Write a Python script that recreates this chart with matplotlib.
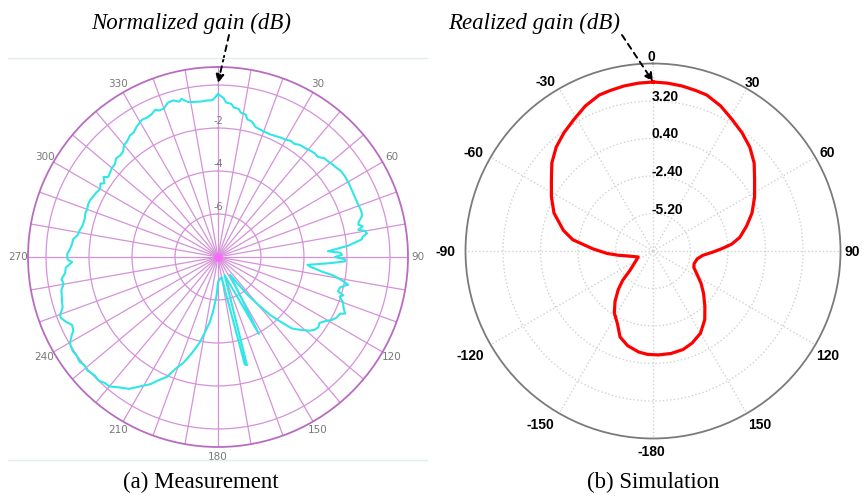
import numpy as np
import matplotlib.pyplot as plt
from matplotlib.lines import Line2D
from matplotlib.transforms import offset_copy

# ---- data ----
# (a) measured normalized gain, angle in degrees (clockwise from top), value in dB
meas_ang = [0, 2, 3, 5, 6, 8, 9, 11, 12, 14, 16, 18, 20, 23, 26, 28, 30, 32, 34, 36,
            39, 41, 43, 45, 47, 49, 51, 53, 55, 58, 61, 64, 67, 70, 72, 74, 76, 77, 78, 79,
            80, 81, 82, 83, 84, 85, 86, 87, 88, 89, 90, 91, 92, 93, 94, 95, 96, 97, 98, 99,
            100, 101, 102, 103, 104, 106, 107, 108, 110, 112, 114, 115, 117, 119, 121, 123, 125, 127, 129, 130,
            132, 134, 136, 138, 140, 142, 144, 146, 152, 160, 165, 166, 170, 176, 180, 182, 185, 187, 190, 192,
            195, 198, 201, 203, 206, 208, 211, 214, 217, 220, 222, 224, 226, 229, 231, 233, 235, 237, 239, 240,
            242, 243, 245, 247, 249, 250, 252, 254, 256, 258, 260, 262, 264, 266, 268, 269, 271, 273, 275, 277,
            279, 281, 283, 286, 288, 290, 292, 294, 296, 298, 300, 302, 303, 305, 306, 308, 310, 312, 314, 316,
            318, 320, 322, 324, 326, 328, 331, 333, 335, 337, 338, 340, 342, 344, 346, 347, 349, 351, 354, 356,
            358, 360]
meas_db = [-0.42, -0.60, -0.80, -0.85, -1.00, -1.05, -1.20, -1.25, -1.45, -1.50, -1.70, -1.75, -1.78, -1.80, -1.76, -1.72, -1.70, -1.62, -1.65, -1.55,
           -1.50, -1.45, -1.40, -1.42, -1.25, -1.22, -1.15, -1.10, -1.02, -1.00, -1.02, -1.04, -1.05, -1.03, -1.00, -1.02, -1.25, -1.30, -1.12, -1.35,
           -1.05, -0.98, -1.20, -1.26, -1.60, -1.91, -2.42, -2.88, -2.30, -2.23, -2.56, -2.10, -2.09, -2.70, -3.30, -3.81, -3.70, -3.40, -3.12, -2.60,
           -2.33, -2.05, -1.81, -2.00, -2.15, -2.19, -1.90, -2.05, -1.81, -1.70, -1.53, -1.75, -1.80, -1.95, -2.20, -2.37, -2.30, -2.37, -2.55, -2.70,
           -2.95, -3.21, -3.81, -4.37, -5.12, -5.77, -6.60, -7.00, -3.95, -7.10, -2.79, -2.85, -7.05, -6.95, -6.84, -6.23, -5.50, -4.98, -4.40, -3.95,
           -3.40, -2.84, -2.40, -1.95, -1.60, -1.30, -0.98, -0.60, -0.40, -0.14, -0.12, 0.00, -0.05, 0.05, 0.00, 0.08, 0.02, 0.05, 0.00, -0.05,
           -0.30, -0.45, -0.51, -0.30, -0.15, -0.19, -0.40, -0.45, -0.51, -0.55, -0.70, -0.65, -0.85, -0.90, -1.21, -1.00, -0.98, -1.10, -1.18, -1.21,
           -1.40, -1.45, -1.53, -1.55, -1.50, -1.52, -1.48, -1.49, -1.55, -1.60, -1.67, -1.55, -1.70, -1.50, -1.68, -1.63, -1.55, -1.55, -1.40, -1.44,
           -1.40, -1.20, -1.15, -1.02, -1.00, -0.85, -0.70, -0.72, -0.68, -0.55, -0.65, -0.65, -0.45, -0.42, -0.55, -0.45, -0.65, -0.70, -0.72, -0.70,
           -0.70, -0.42]

# (b) simulated realized gain
sim_ang = [0, 5, 10, 15, 19, 25, 31, 37, 43, 49, 55, 62, 69, 75, 81, 85, 88, 91, 95, 100,
           107, 112, 118, 124, 130, 137, 143, 150, 157, 163, 170, 177, 183, 188, 195, 201, 206, 212, 217, 222,
           226, 230, 237, 248, 259, 263, 267, 272, 278, 283, 291, 298, 305, 311, 317, 323, 329, 335, 341, 345,
           350, 355, 360]
sim_db = [4.62, 4.58, 4.51, 4.40, 4.32, 3.95, 3.46, 3.05, 2.60, 2.01, 1.26, 0.59, -0.08, -0.76, -1.43, -2.10, -2.85, -3.52, -4.27, -4.64,
          -4.79, -4.71, -4.27, -3.67, -3.07, -2.32, -1.58, -0.91, -0.53, -0.31, -0.23, -0.23, -0.27, -0.38, -0.68, -1.13, -1.95, -2.55, -3.29, -4.12,
          -4.86, -5.76, -6.36, -6.81, -6.06, -5.39, -4.56, -3.52, -1.95, -1.13, -0.08, 0.59, 1.26, 2.01, 2.60, 3.05, 3.46, 3.95, 4.32, 4.40,
          4.51, 4.58, 4.62]

meas_rings = [-6, -4, -2, 0]
meas_labels = [30, 60, 90, 120, 150, 180, 210, 240, 270, 300, 330]
sim_rings = [-5.2, -2.4, 0.4, 3.2]
sim_ticks = list(range(0, 360, 30))
sim_ticklabels = ['0', '30', '60', '90', '120', '150', '-180', '-150', '-120', '-90', '-60', '-30']
# pixel offsets of each angle label from its point on the rim (x right, y down)
sim_label_off = [(-2, -6.5), (6, -5.6), (11.6, -4.3), (11.5, 1), (12.6, 11.3), (13, 11.6),
                 (-2, 13.5), (-19, 11.6), (-20.6, 11.3), (-20.5, 1), (-17.6, -4.3), (-14, -6.6)]

W, H = 866, 497
fig = plt.figure(figsize=(W / 100, H / 100), dpi=100)

grid_c = '#d592d9'
edge_c = '#b86cc0'

# ---------------- (a) Measurement ----------------
ax1 = fig.add_axes([28 / W, 1 - 447 / H, 380 / W, 380 / H], projection='polar')
ax1.set_theta_zero_location('N')
ax1.set_theta_direction(-1)
ax1.set_ylim(-8, 0.84)
ax1.set_yticks(meas_rings)
ax1.set_yticklabels([])
ax1.set_xticks(np.deg2rad(np.arange(0, 360, 10)))
ax1.set_xticklabels([])
ax1.tick_params(axis='x', length=0)
ax1.grid(True, color=grid_c, lw=0.9)
ax1.spines['polar'].set_color(edge_c)
ax1.spines['polar'].set_linewidth(1.3)
ax1.plot(np.deg2rad(meas_ang), meas_db, color='#30e6e6', lw=1.5, zorder=5)
ax1.plot([0], [-8], marker='o', ms=6, color='#ff66ff', mec='none', zorder=6)
up = offset_copy(ax1.transData, fig=fig, x=0, y=7, units='dots')
for v in meas_rings:
    ax1.text(0, v, str(v), transform=up, ha='center', va='center',
             fontsize=7, color='#777777', zorder=4)
for a in meas_labels:
    ax1.text(np.deg2rad(a), 1.32, str(a), ha='center', va='center',
             fontsize=7.5, color='#777777', clip_on=False)

# faint frame of the measurement screenshot
for yy in (58, 460):
    fig.add_artist(Line2D([8 / W, 427 / W], [1 - yy / H, 1 - yy / H],
                          color='#e3efec', lw=1.0))

# ---------------- (b) Simulation ----------------
ax2 = fig.add_axes([465.5 / W, 1 - 438.5 / H, 375 / W, 375 / H], projection='polar')
ax2.set_theta_zero_location('N')
ax2.set_theta_direction(-1)
ax2.set_ylim(-8, 6)
ax2.set_yticks(sim_rings)
ax2.set_yticklabels([])
ax2.set_xticks(np.deg2rad(sim_ticks))
ax2.set_xticklabels([])
ax2.set_xticks(np.deg2rad(np.arange(0, 360, 5)), minor=True)
ax2.tick_params(axis='x', which='major', direction='in', length=8, width=1,
                color='#7a7a7a')
ax2.tick_params(axis='x', which='minor', direction='in', length=4, width=1,
                color='#7a7a7a')
ax2.grid(True, color='#d2d2d2', ls=':', lw=1.0)
ax2.spines['polar'].set_color('#7a7a7a')
ax2.spines['polar'].set_linewidth(1.3)
ax2.plot(np.deg2rad(sim_ang), sim_db, color='#ff0000', lw=2.3, zorder=5)
up2 = offset_copy(ax2.transData, fig=fig, x=-1, y=4, units='dots')
for v in sim_rings:
    ax2.text(0, v, '%.2f' % v, transform=up2, ha='left', va='center',
             fontsize=10, fontweight='bold', family='Liberation Sans', zorder=4)

# angle labels placed relative to the rim
for a, lab, (ox, oy) in zip(sim_ticks, sim_ticklabels, sim_label_off):
    tr = offset_copy(ax2.transData, fig=fig, x=ox, y=-oy, units='dots')
    ax2.text(np.deg2rad(a), 6, lab, transform=tr, ha='center', va='center',
             fontsize=10, fontweight='bold', family='Liberation Sans',
             clip_on=False)

# ---------------- annotations ----------------
fig.text(191 / W, 1 - 23 / H, 'Normalized gain (dB)', ha='center', va='center',
         fontsize=16.5, style='italic', family='Liberation Serif')
fig.text(534 / W, 1 - 23 / H, 'Realized gain (dB)', ha='center', va='center',
         fontsize=16.5, style='italic', family='Liberation Serif')
ax1.annotate('', xy=(0, 0.1), xycoords='data',
             xytext=(229 / W, 1 - 35 / H), textcoords='figure fraction',
             arrowprops=dict(arrowstyle='-|>', ls=(0, (3, 2.5)), lw=1.4,
                             color='k', mutation_scale=12, shrinkA=0, shrinkB=0),
             annotation_clip=False, zorder=10)
ax2.annotate('', xy=(0, 4.65), xycoords='data',
             xytext=(622 / W, 1 - 35 / H), textcoords='figure fraction',
             arrowprops=dict(arrowstyle='-|>', ls=(0, (3, 2.5)), lw=1.4,
                             color='k', mutation_scale=12, shrinkA=0, shrinkB=0),
             annotation_clip=False, zorder=10)

fig.text(201 / W, 1 - 482 / H, '(a) Measurement', ha='center', va='center',
         fontsize=16.5, family='Liberation Serif')
fig.text(653 / W, 1 - 482 / H, '(b) Simulation', ha='center', va='center',
         fontsize=16.5, family='Liberation Serif')

fig.savefig('out.png', dpi=100)
